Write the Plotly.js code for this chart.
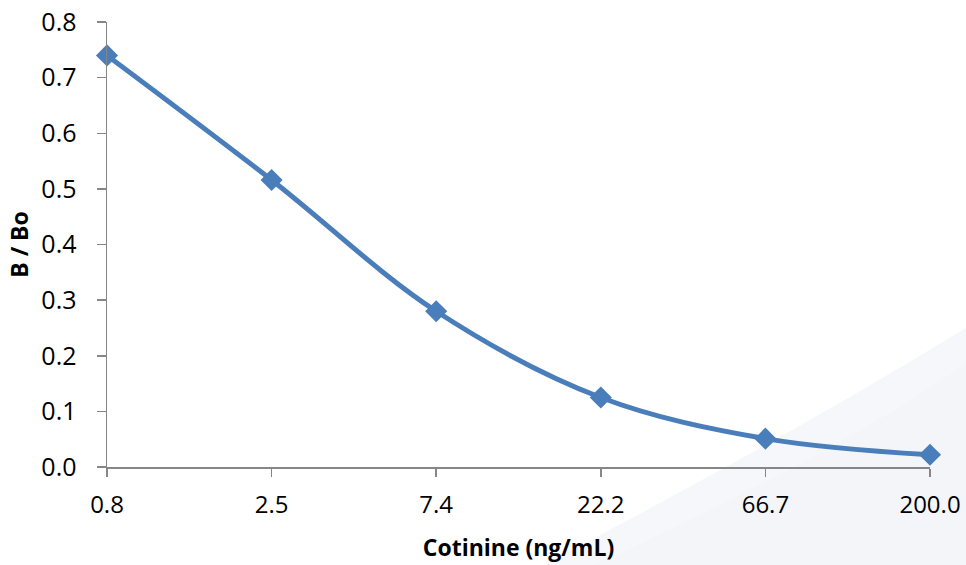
<!DOCTYPE html>
<html>
<head>
<meta charset="utf-8">
<script src="https://cdn.plot.ly/plotly-3.0.1.min.js"></script>
<style>html,body{margin:0;padding:0;background:#fff;}#chart{width:966px;height:565px;}</style>
</head>
<body>
<div id="chart"></div>
<script>
const categories = ["0.8", "2.5", "7.4", "22.2", "66.7", "200.0"];
const ratioValues = [0.740, 0.516, 0.280, 0.125, 0.051, 0.022];
const yTickLabels = ["0.0", "0.1", "0.2", "0.3", "0.4", "0.5", "0.6", "0.7", "0.8"];
const yTickValues = [0, 0.1, 0.2, 0.3, 0.4, 0.5, 0.6, 0.7, 0.8];

const idx = categories.map((c, i) => i);
const font = "Open Sans, Noto Sans, sans-serif";

const trace = {
  x: idx,
  y: ratioValues,
  type: "scatter",
  mode: "lines+markers",
  line: {color: "#4a7ebb", width: 5, shape: "spline", smoothing: 1},
  marker: {symbol: "diamond", size: 17, color: "#4a7ebb"},
  cliponaxis: false,
  hoverinfo: "x+y"
};

const layout = {
  width: 966, height: 565,
  margin: {l: 107, r: 36, t: 22, b: 98},
  paper_bgcolor: "#ffffff",
  plot_bgcolor: "rgba(0,0,0,0)",
  showlegend: false,
  font: {family: font, color: "#000"},
  xaxis: {
    range: [0, 5],
    tickmode: "array",
    tickvals: idx,
    ticktext: categories,
    showgrid: false, zeroline: false,
    showline: true, linecolor: "#868686", linewidth: 1.5,
    ticks: "outside", ticklen: 8, tickcolor: "#868686", tickwidth: 1.5,
    ticklabelstandoff: 8,
    tickfont: {size: 24, family: font},
    title: {text: "Cotinine (ng/mL)", font: {size: 23, family: font, weight: "bold"}, standoff: 20}
  },
  yaxis: {
    range: [0, 0.8],
    tickmode: "array",
    tickvals: yTickValues,
    ticktext: yTickLabels,
    showgrid: false, zeroline: false,
    showline: true, linecolor: "#868686", linewidth: 1.5,
    ticks: "outside", ticklen: 9, tickcolor: "#868686", tickwidth: 1.5,
    ticklabelstandoff: 15,
    tickfont: {size: 25, family: font},
    title: {text: "B / Bo", font: {size: 23, family: font, weight: "bold"}, standoff: 6}
  },
  shapes: [{
    type: "path", xref: "paper", yref: "paper", layer: "below",
    path: "M 0.52,-0.23 Q 0.84,0.08 1.05,0.32 L 1.05,-0.23 Z",
    fillcolor: "#f6f7fb", line: {width: 0}
  }, {
    type: "path", xref: "paper", yref: "paper", layer: "below",
    path: "M 0.58,-0.23 Q 0.88,0.02 1.05,0.24 L 1.05,-0.23 Z",
    fillcolor: "#f3f5f9", line: {width: 0}
  }]
};

Plotly.newPlot("chart", [trace], layout, {displayModeBar: false, staticPlot: true});
</script>
</body>
</html>
